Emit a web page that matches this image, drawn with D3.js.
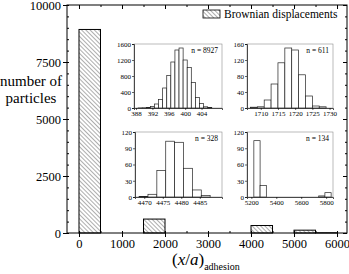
<!DOCTYPE html>
<html>
<head>
<meta charset="utf-8">
<script src="https://cdn.jsdelivr.net/npm/d3@7"></script>
<style>
  body { margin: 0; background: #fff; }
  svg { display: block; font-family: "Liberation Serif", "DejaVu Serif", serif; }
</style>
</head>
<body>
<svg id="chart"></svg>
<script>
// main histogram: bin starts (width 500) and particle counts
const mainStarts = [0, 1500, 4000, 5000, 5500];
const mainCounts = [8927, 611, 328, 124, 10];
const mainXTicks = [0, 1000, 2000, 3000, 4000, 5000, 6000];
const mainYTicks = [0, 2500, 5000, 7500, 10000];

// insets: bin lower edges, bin widths, counts
const in1Lo = [388.5, 389.5, 390.5, 391.5, 392.5, 393.5, 394.5, 395.5, 396.5, 397.5, 398.5, 399.5, 400.5, 401.5, 402.5, 403.5, 404.5, 405.5];
const in1Counts = [2, 5, 12, 40, 100, 210, 500, 810, 1150, 1450, 1500, 1200, 1010, 640, 260, 110, 30, 10];
const in1Ticks = [388, 392, 396, 400, 404];
const in1YTicks = [0, 400, 800, 1200, 1600];

const in2Lo = [1707, 1709, 1711, 1713, 1715, 1717, 1719, 1721, 1723, 1725, 1727];
const in2Counts = [2, 3, 20, 60, 113, 150, 145, 83, 30, 5, 3];
const in2Ticks = [1710, 1715, 1720, 1725, 1730];
const in2YTicks = [0, 40, 80, 120, 160];

const in3Lo = [4468.6, 4471, 4473.4, 4475.8, 4478.2, 4480.6, 4483, 4485.4];
const in3Counts = [1, 5, 49, 103, 101, 53, 13, 3];
const in3Ticks = [4470, 4475, 4480, 4485];
const in3YTicks = [0, 30, 60, 90, 120];

const in4Lo = [5220, 5270, 5740, 5790];
const in4Counts = [104, 21, 2, 8];
const in4Ticks = [5200, 5400, 5600, 5800];
const in4YTicks = [0, 30, 60, 90, 120];

const W = 349, H = 274;
const fmt = d3.format('d');
const svg = d3.select('#chart').attr('width', W).attr('height', H);

// hatch pattern "\\\\"
svg.append('defs').append('pattern')
  .attr('id', 'hatch')
  .attr('patternUnits', 'userSpaceOnUse')
  .attr('width', 3).attr('height', 3)
  .attr('patternTransform', 'rotate(-45)')
  .append('line')
  .attr('x1', 0).attr('y1', 0).attr('x2', 0).attr('y2', 3)
  .attr('stroke', '#333').attr('stroke-width', 0.8);

const plot = {left: 67, right: 347, top: 5, bottom: 233};

const x = d3.scaleLinear().domain([-279, 6232]).range([plot.left, plot.right]);
const y = d3.scaleLinear().domain([0, 10000]).range([plot.bottom, plot.top]);

// bars
svg.selectAll('rect.main')
  .data(mainStarts)
  .enter()
  .append('rect')
  .attr('class', 'main')
  .attr('x', d => x(d))
  .attr('y', (d, i) => y(mainCounts[i]))
  .attr('width', d => x(d + 500) - x(d))
  .attr('height', (d, i) => y(0) - y(mainCounts[i]))
  .attr('fill', 'url(#hatch)')
  .attr('stroke', '#000')
  .attr('stroke-width', 1);

// frame
svg.append('rect')
  .attr('x', plot.left).attr('y', plot.top)
  .attr('width', plot.right - plot.left).attr('height', plot.bottom - plot.top)
  .attr('fill', 'none').attr('stroke', '#000').attr('stroke-width', 1);

const minorX = d3.range(0, 6001, 500);
const minorY = d3.range(0, 10001, 500);

// bottom axis
svg.append('g')
  .attr('transform', `translate(0,${plot.bottom})`)
  .call(d3.axisBottom(x).tickValues(mainXTicks).tickFormat(fmt).tickSize(4).tickPadding(2))
  .call(g => g.select('.domain').remove())
  .call(g => g.selectAll('text').attr('font-size', 12.5).attr('font-family', 'Liberation Serif'));
svg.append('g')
  .attr('transform', `translate(0,${plot.bottom})`)
  .call(d3.axisTop(x).tickValues(minorX).tickSize(2).tickFormat(''))
  .call(g => g.select('.domain').remove());
// top axis (mirror)
svg.append('g')
  .attr('transform', `translate(0,${plot.top})`)
  .call(d3.axisBottom(x).tickValues(minorX).tickSize(2).tickFormat(''))
  .call(g => g.select('.domain').remove());
svg.append('g')
  .attr('transform', `translate(0,${plot.top})`)
  .call(d3.axisBottom(x).tickValues(mainXTicks).tickSize(4).tickFormat(''))
  .call(g => g.select('.domain').remove());

// left axis
svg.append('g')
  .attr('transform', `translate(${plot.left},0)`)
  .call(d3.axisLeft(y).tickValues(mainYTicks).tickFormat(fmt).tickSize(4).tickPadding(2))
  .call(g => g.select('.domain').remove())
  .call(g => g.selectAll('text').attr('font-size', 12.5).attr('font-family', 'Liberation Serif'));
svg.append('g')
  .attr('transform', `translate(${plot.left},0)`)
  .call(d3.axisRight(y).tickValues(minorY).tickSize(2).tickFormat(''))
  .call(g => g.select('.domain').remove());
// right axis (mirror)
svg.append('g')
  .attr('transform', `translate(${plot.right},0)`)
  .call(d3.axisLeft(y).tickValues(minorY).tickSize(2).tickFormat(''))
  .call(g => g.select('.domain').remove());
svg.append('g')
  .attr('transform', `translate(${plot.right},0)`)
  .call(d3.axisLeft(y).tickValues(mainYTicks).tickSize(4).tickFormat(''))
  .call(g => g.select('.domain').remove());

// axis titles
svg.append('text').attr('x', 31).attr('y', 86).attr('text-anchor', 'middle')
  .attr('font-size', 15).text('number of');
svg.append('text').attr('x', 31).attr('y', 103).attr('text-anchor', 'middle')
  .attr('font-size', 15).text('particles');

const xt = svg.append('text').attr('x', 172).attr('y', 265).attr('font-size', 17);
xt.append('tspan').text('(');
xt.append('tspan').attr('font-style', 'italic').text('x');
xt.append('tspan').text('/');
xt.append('tspan').attr('font-style', 'italic').text('a');
xt.append('tspan').text(')');
xt.append('tspan').attr('font-size', 10).attr('dy', 5).text('adhesion');

// legend
svg.append('rect').attr('x', 203).attr('y', 10).attr('width', 17).attr('height', 8)
  .attr('fill', 'url(#hatch)').attr('stroke', '#000').attr('stroke-width', 0.8);
svg.append('text').attr('x', 224).attr('y', 18).attr('font-size', 11.5)
  .text('Brownian displacements');

// insets
function drawInset(box, lo, widths, counts, xDomain, xTicks, yTicks, label) {
  const g = svg.append('g');
  const sx = d3.scaleLinear().domain(xDomain).range([box.left, box.right]);
  const sy = d3.scaleLinear().domain([0, yTicks[yTicks.length - 1]]).range([box.bottom, box.top]);

  g.append('rect')
    .attr('x', box.left).attr('y', box.top)
    .attr('width', box.right - box.left).attr('height', box.bottom - box.top)
    .attr('fill', '#fff').attr('stroke', '#777').attr('stroke-width', 0.5);

  g.selectAll('rect.bin')
    .data(lo)
    .enter()
    .append('rect')
    .attr('class', 'bin')
    .attr('x', d => sx(d))
    .attr('y', (d, i) => sy(counts[i]))
    .attr('width', (d, i) => sx(d + widths) - sx(d))
    .attr('height', (d, i) => sy(0) - sy(counts[i]))
    .attr('fill', '#fff').attr('stroke', '#222').attr('stroke-width', 0.7);

  g.append('g')
    .attr('transform', `translate(0,${box.bottom})`)
    .call(d3.axisBottom(sx).tickValues(xTicks).tickFormat(fmt).tickSize(2).tickPadding(1))
    .call(gg => gg.select('.domain').attr('stroke', '#222').attr('stroke-width', 0.8))
    .call(gg => gg.selectAll('line').attr('stroke-width', 0.6))
    .call(gg => gg.selectAll('text').attr('font-size', 7).attr('font-family', 'Liberation Serif'));
  g.append('g')
    .attr('transform', `translate(${box.left},0)`)
    .call(d3.axisLeft(sy).tickValues(yTicks).tickFormat(fmt).tickSize(2).tickPadding(1))
    .call(gg => gg.select('.domain').attr('stroke', '#222').attr('stroke-width', 0.8))
    .call(gg => gg.selectAll('line').attr('stroke-width', 0.6))
    .call(gg => gg.selectAll('text').attr('font-size', 7).attr('font-family', 'Liberation Serif'));

  g.append('text')
    .attr('x', box.right - 4).attr('y', box.top + 9)
    .attr('text-anchor', 'end').attr('font-size', 7.5)
    .text(label);
}

drawInset({left: 134, right: 222, top: 44, bottom: 108}, in1Lo, 1, in1Counts,
  [387.5, 409], in1Ticks, in1YTicks, 'n = 8927');
drawInset({left: 247, right: 333, top: 44, bottom: 108}, in2Lo, 2, in2Counts,
  [1706, 1731], in2Ticks, in2YTicks, 'n = 611');
drawInset({left: 135, right: 222, top: 132, bottom: 197}, in3Lo, 2.4, in3Counts,
  [4467.5, 4491], in3Ticks, in3YTicks, 'n = 328');
drawInset({left: 247, right: 333, top: 132, bottom: 197}, in4Lo, 50, in4Counts,
  [5165, 5855], in4Ticks, in4YTicks, 'n = 134');
</script>
</body>
</html>
